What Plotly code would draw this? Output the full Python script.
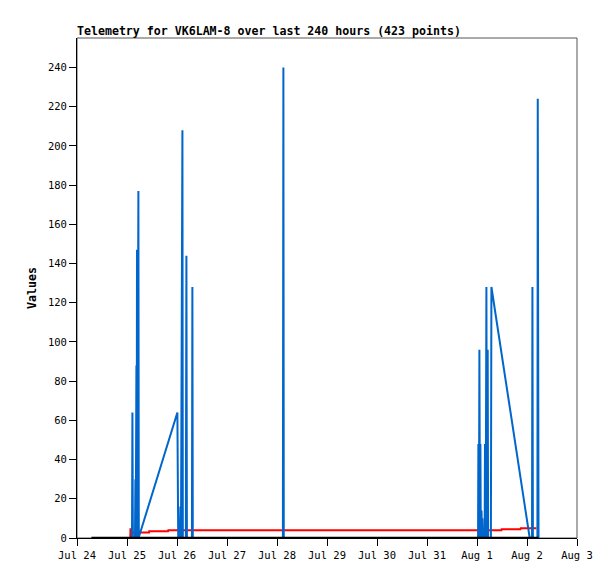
import plotly.graph_objects as go

# ---- data ----
blue_times = [
    "2024-07-25 01:41", "2024-07-25 02:24", "2024-07-25 02:36", "2024-07-25 02:50",
    "2024-07-25 03:50", "2024-07-25 04:02", "2024-07-25 04:12", "2024-07-25 04:31",
    "2024-07-25 04:38", "2024-07-25 04:48", "2024-07-25 04:58", "2024-07-25 05:28",
    "2024-07-25 05:40", "2024-07-25 05:51",
    "2024-07-26 00:11", "2024-07-26 00:35", "2024-07-26 01:20", "2024-07-26 01:38",
    "2024-07-26 01:55", "2024-07-26 02:36", "2024-07-26 02:48", "2024-07-26 04:15",
    "2024-07-26 04:31", "2024-07-26 04:45", "2024-07-26 07:10", "2024-07-26 07:23",
    "2024-07-26 07:35", "2024-07-27 12:00", "2024-07-28 02:50", "2024-07-28 03:04",
    "2024-07-28 03:15", "2024-07-29 12:00", "2024-07-31 12:00",
    "2024-08-01 00:30", "2024-08-01 00:40", "2024-08-01 00:55", "2024-08-01 01:09",
    "2024-08-01 01:25", "2024-08-01 01:38", "2024-08-01 01:50", "2024-08-01 02:10",
    "2024-08-01 02:20", "2024-08-01 02:35", "2024-08-01 02:50", "2024-08-01 03:40",
    "2024-08-01 03:50", "2024-08-01 04:10", "2024-08-01 04:31", "2024-08-01 04:45",
    "2024-08-01 05:08", "2024-08-01 05:20", "2024-08-01 06:40", "2024-08-01 06:55",
    "2024-08-02 01:18", "2024-08-02 02:25", "2024-08-02 02:36", "2024-08-02 02:50",
    "2024-08-02 05:00", "2024-08-02 05:10", "2024-08-02 05:17", "2024-08-02 05:25",
    "2024-08-02 05:32",
]
blue_values = [
    0, 0, 64, 0,
    0, 30, 0, 88,
    0, 147, 0, 177,
    0, 1,
    64, 0, 0, 16,
    0, 208, 0, 0,
    144, 0, 0, 128,
    0, 0, 0, 240,
    0, 0, 0,
    0, 48, 0, 96,
    0, 48, 0, 14,
    6, 10, 0, 0,
    48, 0, 128, 0,
    96, 0, 0, 128,
    0, 0, 128, 0,
    0, 224, 0, 224,
    0,
]

red_times = [
    "2024-07-25 01:35", "2024-07-25 01:41", "2024-07-25 01:50", "2024-07-25 10:34",
    "2024-07-25 10:40", "2024-07-25 19:41", "2024-07-25 19:50", "2024-08-01 11:43",
    "2024-08-01 11:50", "2024-08-01 20:50", "2024-08-01 21:00", "2024-08-02 04:31",
]
red_values = [0.5, 5, 2.8, 2.8, 3.4, 3.4, 4.0, 4.0, 4.4, 4.4, 5.0, 5.0]

black_times = ["2024-07-24 06:55", "2024-08-02 05:32"]
black_values = [0, 0]

y_ticks = list(range(0, 241, 20))
x_ticks = ["2024-07-24", "2024-07-25", "2024-07-26", "2024-07-27", "2024-07-28",
           "2024-07-29", "2024-07-30", "2024-07-31", "2024-08-01", "2024-08-02",
           "2024-08-03"]
x_range = ["2024-07-24 00:00", "2024-08-03 00:00"]
y_range = [0, 255]

title_text = "Telemetry for VK6LAM-8 over last 240 hours (423 points)"
y_title = "Values"

# ---- figure ----
# the page places the figure 8px in from the top-left (default body margin)
W, H = 607, 571
fig = go.Figure()
fig.add_trace(go.Scatter(x=red_times, y=red_values, mode="lines",
                         line=dict(color="#FF0000", width=2), hoverinfo="skip"))
fig.add_trace(go.Scatter(x=blue_times, y=blue_values, mode="lines",
                         line=dict(color="#0066CC", width=2), hoverinfo="skip"))
fig.add_trace(go.Scatter(x=black_times, y=black_values, mode="lines",
                         line=dict(color="#000000", width=2.5), hoverinfo="skip"))

mono = "DejaVu Sans Mono"
fig.update_layout(
    width=W, height=H,
    margin=dict(l=69, r=38, t=30, b=41),
    paper_bgcolor="white", plot_bgcolor="white",
    showlegend=False,
    title=dict(text="<b>" + title_text + "</b>", x=69 / W, xanchor="left",
               xref="container", y=1 - 23 / H, yanchor="middle", yref="container",
               font=dict(family=mono, size=11.6, color="black")),
    shapes=[dict(type="rect", xref="paper", yref="paper", x0=0, x1=1, y0=0, y1=1,
                 line=dict(color="#555555", width=1), layer="below")],
)
fig.update_xaxes(range=x_range, tickvals=x_ticks, tickformat="%b %-d",
                 showgrid=False, zeroline=False, showline=True, linecolor="black",
                 linewidth=1, ticks="outside", ticklen=7, tickcolor="black",
                 tickfont=dict(family=mono, size=10.5, color="black"))
fig.update_yaxes(range=y_range, tickvals=y_ticks, showgrid=False, zeroline=False,
                 showline=True, linecolor="black", linewidth=1, ticks="outside",
                 ticklen=7, tickcolor="black",
                 tickfont=dict(family=mono, size=10.5, color="black"),
                 title=dict(text="<b>" + y_title + "</b>", standoff=8,
                            font=dict(family=mono, size=11.6, color="black")))

fig.write_html("out.html")
